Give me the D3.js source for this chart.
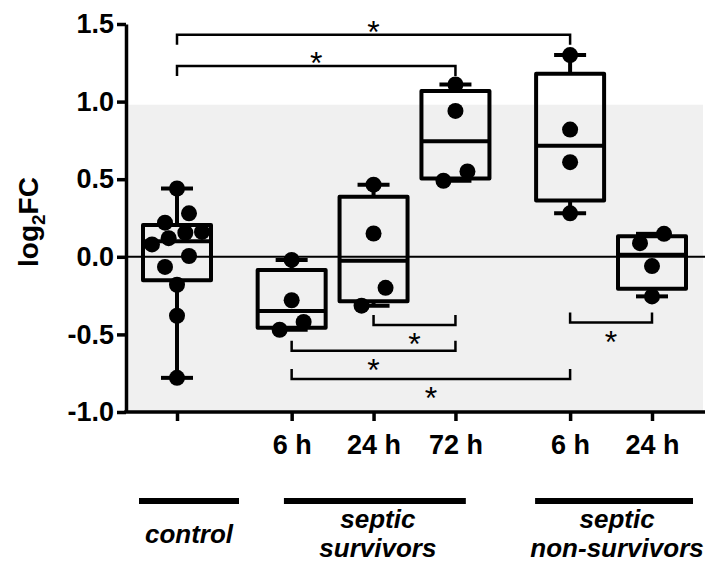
<!DOCTYPE html>
<html>
<head>
<meta charset="utf-8">
<script src="https://cdn.jsdelivr.net/npm/d3@7"></script>
<style>
  body { margin: 0; background: #fff; }
  svg { display: block; }
  text { font-family: Arial, "Liberation Sans", sans-serif; fill: #000; }
</style>
</head>
<body>
<svg id="chart" width="705" height="562"></svg>
<script>
// categories (keys are unique, labels repeat)
const keys = ["ctrl", "s6", "s24", "s72", "n6", "n24"]
const tickLabels = ["", "6 h", "24 h", "72 h", "6 h", "24 h"]
const groupOf = [0, 1, 1, 1, 2, 2]
const groupNames = [["control"], ["septic", "survivors"], ["septic", "non-survivors"]]

// log2FC values
const control = [0.44, 0.28, 0.22, 0.16, 0.155, 0.12, 0.08, 0.005, -0.065, -0.18, -0.38, -0.78]
const survivors6h = [-0.02, -0.28, -0.42, -0.47]
const survivors24h = [0.465, 0.15, -0.2, -0.315]
const survivors72h = [1.11, 0.94, 0.55, 0.49]
const nonSurvivors6h = [1.30, 0.82, 0.61, 0.28]
const nonSurvivors24h = [0.148, 0.088, -0.06, -0.255]
const series = [control, survivors6h, survivors24h, survivors72h, nonSurvivors6h, nonSurvivors24h]

const yTicks = [-1.0, -0.5, 0.0, 0.5, 1.0, 1.5]
const shadedBand = [-1.0, 0.98]

// significance brackets: [from, to, level in log2FC units]
const brackets = [
  ["ctrl", "n6", 1.43],
  ["ctrl", "s72", 1.23],
  ["s24", "s72", -0.44],
  ["s6", "s72", -0.605],
  ["s6", "n6", -0.787],
  ["n6", "n24", -0.424]
]

const svg = d3.select("#chart")
const W = 705
const axisX = 126

const y = d3.scaleLinear().domain([-1, 1.5]).range([412, 24])
// slots: one per category plus a wider gap between groups
const slot = keys.map((k, i) => i + 0.4 * groupOf[i])
const slotScale = d3.scaleLinear().domain([0, d3.max(slot)]).range([177, 652])
const x = d3.scaleOrdinal().domain(keys).range(slot.map(slotScale))

// GraphPad style quartiles, position (n + 1) * p
const quart = (vals, p) => {
  const s = [...vals].sort(d3.ascending)
  const pos = (s.length + 1) * p - 1
  const lo = Math.max(0, Math.floor(pos)), hi = Math.min(s.length - 1, lo + 1)
  return s[lo] + (s[hi] - s[lo]) * (pos - lo)
}

const r = 8
// spread points sitting at about the same height
const layoutDots = (vals) => {
  const pts = vals.map(v => ({ v, py: y(v), dx: 0 })).sort((a, b) => b.v - a.v)
  const bins = []
  pts.forEach(p => {
    const last = bins[bins.length - 1]
    if (last && p.py - last[0].py < 18) last.push(p)
    else bins.push([p])
  })
  bins.forEach(b => {
    const n = b.length
    if (n < 2) return
    const step = Math.min(24, 50 / (n - 1))
    b.sort((a, c) => a.v - c.v).forEach((p, k) => { p.dx = (k - (n - 1) / 2) * step })
  })
  return pts
}

// shaded normal range
svg.append("rect")
  .attr("x", axisX + 2)
  .attr("y", y(shadedBand[1]))
  .attr("width", W - 2 - axisX - 2)
  .attr("height", y(shadedBand[0]) - y(shadedBand[1]))
  .attr("fill", "#f0f0f0")

// zero line
svg.append("line")
  .attr("x1", axisX).attr("x2", W)
  .attr("y1", y(0)).attr("y2", y(0))
  .attr("stroke", "#000").attr("stroke-width", 2)

// y axis
const yAxis = svg.append("g")
  .attr("transform", `translate(${axisX},0)`)
  .call(d3.axisLeft(y).tickValues(yTicks).tickSize(9).tickSizeOuter(0).tickPadding(3)
    .tickFormat(d => d.toFixed(1)))
yAxis.select(".domain").attr("stroke-width", 3.5)
yAxis.selectAll(".tick line").attr("stroke-width", 3.5)
yAxis.selectAll("text")
  .attr("font-size", 27).attr("font-weight", "bold")
  .attr("font-family", "Arial, 'Liberation Sans', sans-serif")

// x axis
const xAxis = svg.append("g")
  .attr("transform", `translate(0,${y(-1)})`)
  .call(d3.axisBottom(x).tickSize(9).tickPadding(14).tickFormat((d, i) => tickLabels[i]))
xAxis.select(".domain").remove()
xAxis.append("line")
  .attr("x1", axisX - 1.75).attr("x2", W)
  .attr("stroke", "#000").attr("stroke-width", 3.5)
xAxis.selectAll(".tick line").attr("stroke-width", 3.5)
xAxis.selectAll("text")
  .attr("font-size", 27).attr("font-weight", "bold")
  .attr("font-family", "Arial, 'Liberation Sans', sans-serif")

// y label
svg.append("text")
  .attr("transform", `translate(38,222) rotate(-90)`)
  .attr("text-anchor", "middle")
  .attr("font-size", 28).attr("font-weight", "bold")
  .call(t => {
    t.append("tspan").text("log")
    t.append("tspan").attr("font-size", 19).attr("dy", 7).text("2")
    t.append("tspan").attr("dy", -7).text("FC")
  })

// boxes
const boxW = 68, capW = 32
const boxes = svg.append("g").attr("stroke", "#000").attr("stroke-width", 4).attr("fill", "none")
series.forEach((vals, i) => {
  const cx = x(keys[i])
  const q1 = quart(vals, 0.25), med = quart(vals, 0.5), q3 = quart(vals, 0.75)
  const lo = d3.min(vals), hi = d3.max(vals)
  const g = boxes.append("g")
  g.append("line").attr("x1", cx).attr("x2", cx).attr("y1", y(hi)).attr("y2", y(q3))
  g.append("line").attr("x1", cx).attr("x2", cx).attr("y1", y(q1)).attr("y2", y(lo))
  g.append("line").attr("x1", cx - capW / 2).attr("x2", cx + capW / 2).attr("y1", y(hi)).attr("y2", y(hi))
  g.append("line").attr("x1", cx - capW / 2).attr("x2", cx + capW / 2).attr("y1", y(lo)).attr("y2", y(lo))
  g.append("rect")
    .attr("x", cx - boxW / 2).attr("y", y(q3))
    .attr("width", boxW).attr("height", y(q1) - y(q3))
    .attr("stroke-linejoin", "round")
  g.append("line").attr("x1", cx - boxW / 2).attr("x2", cx + boxW / 2).attr("y1", y(med)).attr("y2", y(med))
})

// dots
series.forEach((vals, i) => {
  svg.append("g").selectAll("circle")
    .data(layoutDots(vals))
    .join("circle")
    .attr("cx", d => x(keys[i]) + d.dx)
    .attr("cy", d => d.py)
    .attr("r", r)
    .attr("fill", "#000")
})

// significance brackets
const br = svg.append("g")
brackets.forEach(([a, b, level]) => {
  const x1 = x(a), x2 = x(b), yy = y(level)
  const leg = level > 0 ? 10 : -10
  br.append("path")
    .attr("d", `M${x1},${yy + leg}V${yy}H${x2}V${yy + leg}`)
    .attr("fill", "none").attr("stroke", "#000").attr("stroke-width", 2.5)
  const starY = level > 0 ? yy - 10 : yy + 12
  br.append("text")
    .attr("x", (x1 + x2) / 2).attr("y", starY + 0.575 * 32)
    .attr("text-anchor", "middle")
    .attr("font-size", 32)
    .text("*")
})

// group bars and names
const groups = svg.append("g")
groupNames.forEach((lines, gi) => {
  const members = keys.filter((k, i) => groupOf[i] === gi).map(k => x(k))
  const span = d3.max(members) - d3.min(members)
  const n = members.length
  const cx = d3.mean(members) + 12 / (n * n)
  const half = 50 + 3.2 * Math.sqrt(span)
  groups.append("line")
    .attr("x1", cx - half).attr("x2", cx + half)
    .attr("y1", 501).attr("y2", 501)
    .attr("stroke", "#000").attr("stroke-width", 6)
  lines.forEach((s, li) => {
    groups.append("text")
      .attr("x", cx + (n > 1 ? 3 : 0))
      .attr("y", 543 - (lines.length - 1) * 15 + li * 29)
      .attr("text-anchor", "middle")
      .attr("font-size", 26).attr("font-weight", "bold").attr("font-style", "italic")
      .text(s)
  })
})
</script>
</body>
</html>
